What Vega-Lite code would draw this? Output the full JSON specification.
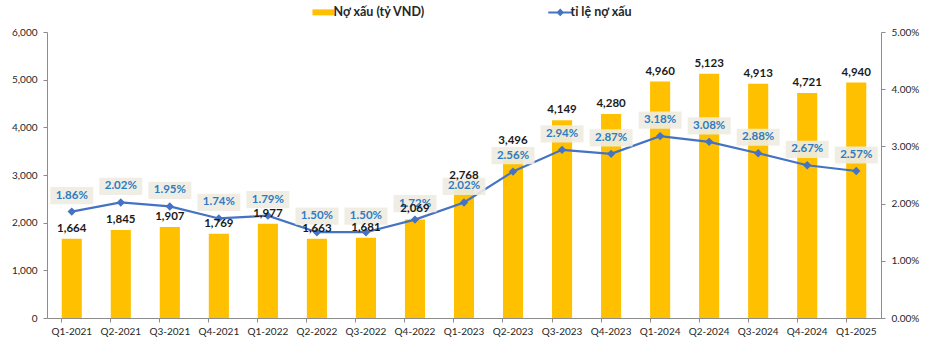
{
  "$schema": "https://vega.github.io/schema/vega-lite/v6.json",
  "autosize": {"type": "none"},
  "width": 834,
  "height": 286,
  "padding": {"left": 47, "top": 32, "right": 54, "bottom": 35},
  "background": "white",
  "config": {
    "view": {"stroke": null},
    "font": "Lato",
    "axis": {"labelFont": "Lato", "labelFontSize": 10, "labelColor": "#262626", "domainColor": "#8c8c8c", "tickColor": "#8c8c8c", "grid": false, "title": null, "tickSize": 4}
  },
  "data": {"values": [
    {"q": "Q1-2021", "npl": 1664, "rate": 0.0186},
    {"q": "Q2-2021", "npl": 1845, "rate": 0.0202},
    {"q": "Q3-2021", "npl": 1907, "rate": 0.0195},
    {"q": "Q4-2021", "npl": 1769, "rate": 0.0174},
    {"q": "Q1-2022", "npl": 1977, "rate": 0.0179},
    {"q": "Q2-2022", "npl": 1663, "rate": 0.0150},
    {"q": "Q3-2022", "npl": 1681, "rate": 0.0150},
    {"q": "Q4-2022", "npl": 2069, "rate": 0.0172},
    {"q": "Q1-2023", "npl": 2768, "rate": 0.0202},
    {"q": "Q2-2023", "npl": 3496, "rate": 0.0256},
    {"q": "Q3-2023", "npl": 4149, "rate": 0.0294},
    {"q": "Q4-2023", "npl": 4280, "rate": 0.0287},
    {"q": "Q1-2024", "npl": 4960, "rate": 0.0318},
    {"q": "Q2-2024", "npl": 5123, "rate": 0.0308},
    {"q": "Q3-2024", "npl": 4913, "rate": 0.0288},
    {"q": "Q4-2024", "npl": 4721, "rate": 0.0267},
    {"q": "Q1-2025", "npl": 4940, "rate": 0.0257}
  ]},
  "encoding": {
    "x": {"field": "q", "type": "nominal", "sort": null,
      "scale": {"paddingInner": 0.59, "paddingOuter": 0.3},
      "axis": {"labelAngle": 0, "bandPosition": 0, "labelPadding": 4, "tickSize": 4}}
  },
  "layer": [
    {
      "mark": {"type": "bar", "color": "#FFC000"},
      "encoding": {
        "y": {"field": "npl", "type": "quantitative", "scale": {"domain": [0, 6000], "nice": false},
          "axis": {"format": ",.0f", "values": [0, 1000, 2000, 3000, 4000, 5000, 6000], "labelOverlap": false, "labelPadding": 6}},
        "color": {"datum": "Nợ xấu (tỷ VND)", "type": "nominal",
          "scale": {"domain": ["Nợ xấu (tỷ VND)", "tỉ lệ nợ xấu"], "range": ["#FFC000", "#4472C4"]},
          "legend": {
            "orient": "none", "legendX": 270, "legendY": -26, "direction": "horizontal", "columns": 2,
            "title": null, "labelFont": "Lato", "labelFontSize": 12.5, "labelFontWeight": "bold", "labelColor": "#262626",
            "symbolSize": 576, "columnPadding": 118, "labelOffset": 4,
            "encode": {"symbols": {"update": {
              "shape": {"signal": "datum.value === 'tỉ lệ nợ xấu' ? 'M-1,0H1M-0.2,0L0,-0.2L0.2,0L0,0.2Z' : 'M-0.9,-0.25H0.9V0.25H-0.9Z'"},
              "strokeWidth": {"signal": "datum.value === 'tỉ lệ nợ xấu' ? 2 : 0"},
              "fill": {"signal": "datum.value === 'tỉ lệ nợ xấu' ? '#4472C4' : '#FFC000'"},
              "stroke": {"signal": "datum.value === 'tỉ lệ nợ xấu' ? '#4472C4' : '#FFC000'"},
              "opacity": {"value": 1}
            }}}
          }}
      }
    },
    {
      "mark": {"type": "line", "color": "#4472C4", "strokeWidth": 2.2, "point": {"shape": "diamond", "size": 70, "filled": true, "color": "#4472C4"}},
      "encoding": {
        "y": {"field": "rate", "type": "quantitative", "scale": {"domain": [0, 0.05], "nice": false},
          "axis": {"orient": "right", "format": ".2%", "values": [0, 0.01, 0.02, 0.03, 0.04, 0.05], "labelOverlap": false, "labelPadding": 6}},
        "color": {"datum": "tỉ lệ nợ xấu", "type": "nominal"}
      }
    },
    {
      "mark": {"type": "point", "shape": "M-1,-0.4H1V0.4H-1Z", "size": 1850, "filled": true, "color": "#EEECE1", "opacity": 0.9, "yOffset": -16},
      "encoding": {
        "y": {"field": "rate", "type": "quantitative", "scale": {"domain": [0, 0.05], "nice": false}, "axis": null}
      }
    },
    {
      "mark": {"type": "text", "font": "Lato", "fontWeight": "bold", "fontSize": 11.5, "color": "#2E7BC4", "baseline": "middle", "dy": -16},
      "encoding": {
        "y": {"field": "rate", "type": "quantitative", "scale": {"domain": [0, 0.05], "nice": false}, "axis": null},
        "text": {"field": "rate", "type": "quantitative", "format": ".2%"}
      }
    },
    {
      "mark": {"type": "text", "font": "Lato", "fontWeight": "bold", "fontSize": 11.5, "color": "#1a1a1a", "baseline": "bottom", "dy": -5},
      "encoding": {
        "y": {"field": "npl", "type": "quantitative", "scale": {"domain": [0, 6000], "nice": false}, "axis": null},
        "text": {"field": "npl", "type": "quantitative", "format": ",.0f"}
      }
    }
  ],
  "resolve": {"scale": {"y": "independent"}}
}
